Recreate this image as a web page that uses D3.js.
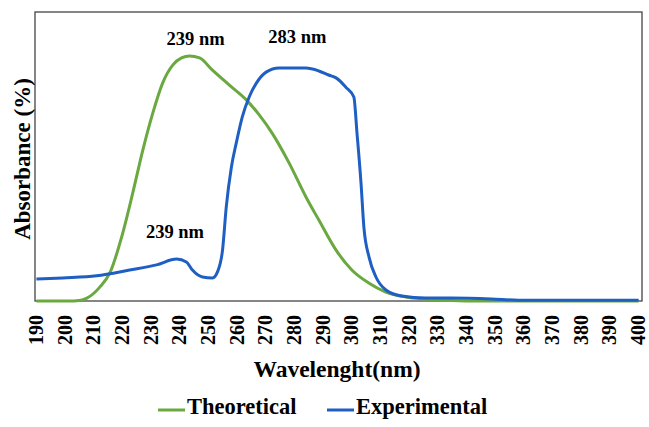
<!DOCTYPE html>
<html>
<head>
<meta charset="utf-8">
<script src="https://cdn.jsdelivr.net/npm/d3@7"></script>
<style>
  body { margin: 0; background: #fff; }
  text { font-family: "Liberation Serif", "Times New Roman", serif; font-weight: bold; fill: #000; }
</style>
</head>
<body>
<script>
// wavelength (nm) ticks along the bottom
let wavelengthTicks = [190, 200, 210, 220, 230, 240, 250, 260, 270, 280, 290, 300,
  310, 320, 330, 340, 350, 360, 370, 380, 390, 400]

// Theoretical spectrum (relative absorbance)
let theoNm = [190, 196, 201, 205, 207.6, 212.1, 215.6, 220.1, 223.6, 227.1, 230.6, 234,
  237.6, 240.6, 243.4, 246.9, 251.4, 257.3, 263.2, 267.7, 272.2, 278.1, 284, 288.5,
  294.5, 300, 305.9, 311.8, 318.8, 325.7, 334.8, 345, 400]
let theoAbs = [0, 0, 0, 0.002, 0.010, 0.048, 0.097, 0.235, 0.374, 0.522, 0.651, 0.754,
  0.817, 0.841, 0.848, 0.841, 0.799, 0.747, 0.696, 0.644, 0.581, 0.478, 0.360, 0.280,
  0.176, 0.107, 0.062, 0.031, 0.014, 0.007, 0.002, 0, 0]

// Experimental spectrum
let expNm = [190, 199.2, 211, 222.5, 231.9, 238.9, 242.3, 244.4, 247.9, 251.4, 253.1,
  254.9, 256.2, 258, 259.7, 261.8, 264.2, 266.7, 270.1, 274.6, 279.1, 284, 288.5, 291.9,
  294.5, 297.9, 300.7, 301.8, 303.2, 304.2, 306, 308.4, 311.9, 317.4, 325.7, 334.8,
  348.7, 358.1, 400]
let expAbs = [0.076, 0.080, 0.087, 0.107, 0.125, 0.145, 0.135, 0.107, 0.083, 0.080, 0.100,
  0.176, 0.325, 0.464, 0.547, 0.637, 0.706, 0.754, 0.792, 0.806, 0.806, 0.806, 0.796, 0.782,
  0.772, 0.740, 0.706, 0.581, 0.408, 0.256, 0.152, 0.083, 0.038, 0.017, 0.010, 0.010,
  0.007, 0.003, 0.003]

let peakLabels = ["239 nm", "283 nm", "239 nm"]
let peakNm = [245.5, 281, 238.3]
let peakAbs = [0.885, 0.892, 0.218]

let seriesNames = ["Theoretical", "Experimental"]
let seriesColors = ["#6aa840", "#1f5fc4"]

let W = 649, H = 427
let plotLeft = 35, plotRight = 642, plotTop = 12, plotBottom = 301

let svg = d3.select('body')
  .append('svg')
  .attr('width', W)
  .attr('height', H)

let Xscale = d3.scaleLinear()
  .domain([189.5, 400.5])
  .range([plotLeft, 640])

let Yscale = d3.scaleLinear()
  .domain([0, 1])
  .range([plotBottom, plotTop])

// plot frame
svg.append('rect')
  .attr('x', plotLeft)
  .attr('y', plotTop)
  .attr('width', plotRight - plotLeft)
  .attr('height', plotBottom - plotTop)
  .attr('fill', 'none')
  .attr('stroke', '#444')
  .attr('stroke-width', 1.3)

let line = d3.line()
  .x(d => Xscale(d[0]))
  .y(d => Yscale(d[1]))
  .curve(d3.curveMonotoneX)

let theo = theoNm.map((n, i) => [n, theoAbs[i]])
let exp = expNm.map((n, i) => [n, expAbs[i]])

svg.append('path')
  .datum(theo)
  .attr('d', line)
  .attr('fill', 'none')
  .attr('stroke', seriesColors[0])
  .attr('stroke-width', 3)

svg.append('path')
  .datum(exp)
  .attr('d', line)
  .attr('fill', 'none')
  .attr('stroke', seriesColors[1])
  .attr('stroke-width', 3)

// x axis, labels turned on their side
let x_Axis = d3.axisBottom(Xscale)
  .tickValues(wavelengthTicks)
  .tickSize(0)
  .tickFormat(d3.format("d"))

let xAxisGroup = svg.append('g')
  .attr('transform', 'translate(0,' + plotBottom + ')')
  .call(x_Axis)

xAxisGroup.select('.domain').remove()
xAxisGroup.selectAll('text')
  .attr('transform', 'rotate(-90)')
  .attr('x', -14)
  .attr('y', 0)
  .attr('dy', '0.3em')
  .style('text-anchor', 'end')
  .style('font-size', '20px')
  .style('font-family', '"Liberation Serif", serif')
  .style('font-weight', 'bold')
  .attr('fill', '#000')

svg.append('text')
  .attr('x', 337)
  .attr('y', 377)
  .attr('text-anchor', 'middle')
  .style('font-size', '23.5px')
  .text('Wavelenght(nm)')

svg.append('text')
  .attr('transform', 'translate(30,159) rotate(-90)')
  .attr('text-anchor', 'middle')
  .style('font-size', '23px')
  .text('Absorbance (%)')

// peak annotations
svg.selectAll('.peak')
  .data(peakLabels)
  .enter()
  .append('text')
  .attr('class', 'peak')
  .attr('x', (d, i) => Xscale(peakNm[i]))
  .attr('y', (d, i) => Yscale(peakAbs[i]))
  .attr('text-anchor', 'middle')
  .style('font-size', '18.5px')
  .text(d => d)

// legend
let legendX = [158, 327]
let legend = svg.selectAll('.legend')
  .data(seriesNames)
  .enter()
  .append('g')
  .attr('class', 'legend')
  .attr('transform', (d, i) => 'translate(' + legendX[i] + ',410)')

legend.append('line')
  .attr('x1', 0)
  .attr('x2', 27)
  .attr('stroke', (d, i) => seriesColors[i])
  .attr('stroke-width', 3)

legend.append('text')
  .attr('x', 29)
  .attr('y', 4)
  .style('font-size', '22.5px')
  .text(d => d)
</script>
</body>
</html>
